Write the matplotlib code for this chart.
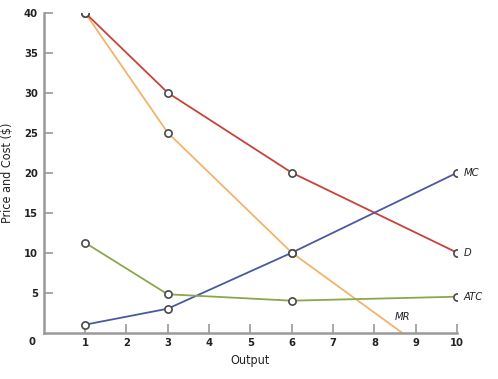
import matplotlib.pyplot as plt

# Output levels and curve values
output_d = [1, 3, 6, 10]
demand = [40, 30, 20, 10]

output_mr = [1, 3, 6, 10]
marginal_revenue = [40, 25, 10, -5]

output_mc = [1, 3, 6, 10]
marginal_cost = [1, 3, 10, 20]

output_atc = [1, 3, 6, 10]
avg_total_cost = [11.25, 4.8, 4, 4.5]

x_ticks = [1, 2, 3, 4, 5, 6, 7, 8, 9, 10]
y_ticks = [5, 10, 15, 20, 25, 30, 35, 40]

plt.rcParams['font.family'] = ['DejaVu Sans']
plt.rcParams['font.stretch'] = 'condensed'

fig = plt.figure(figsize=(4.98, 3.79), dpi=100)
ax = fig.add_axes([0.0877, 0.1222, 0.918 - 0.0877, 0.9665 - 0.1222])

marker = dict(marker='o', markersize=5.2, markerfacecolor='white',
              markeredgecolor='#4a4a4a', markeredgewidth=1.2)

# MR line runs below zero; axes clip it where it meets the x axis
ax.plot(output_mr, marginal_revenue, color='#f2b46a', lw=1.3, zorder=2)
ax.plot(output_mr[:3], marginal_revenue[:3], ls='none', zorder=4, **marker)
ax.plot(output_d, demand, color='#c8423a', lw=1.3, zorder=3, **marker)
ax.plot(output_mc, marginal_cost, color='#4a5a9e', lw=1.3, zorder=3, **marker)
ax.plot(output_atc, avg_total_cost, color='#8aa84a', lw=1.3, zorder=3, **marker)

lab = dict(fontsize=8, style='italic', va='center', ha='left', color='#222222')
ax.text(10.15, demand[-1], 'D', **lab)
ax.text(10.15, marginal_cost[-1], 'MC', **lab)
ax.text(10.15, avg_total_cost[-1], 'ATC', **lab)
ax.text(8.67, 2.0, 'MR', fontsize=8, style='italic', ha='center', va='center', color='#222222')

ax.set_xlim(0, 10)
ax.set_ylim(0, 40)
ax.set_xticks(x_ticks)
ax.set_yticks(y_ticks)
ax.tick_params(direction='in', length=6.5, width=1.2, color='#999999',
               labelsize=8, labelcolor='#222222', pad=4)
for t in ax.get_xticklabels() + ax.get_yticklabels():
    t.set_fontweight('bold')
ax.text(-0.2, -0.6, '0', fontsize=8, fontweight='bold', ha='right', va='top', color='#222222')

for side in ['top', 'right']:
    ax.spines[side].set_visible(False)
for side in ['left', 'bottom']:
    ax.spines[side].set_color('#999999')
    ax.spines[side].set_linewidth(1.8)

ax.set_xlabel('Output', fontsize=9, color='#222222', labelpad=4)
ax.set_ylabel('Price and Cost ($)', fontsize=9, color='#222222', labelpad=7)

plt.savefig('out.png', dpi=100)
plt.close()
